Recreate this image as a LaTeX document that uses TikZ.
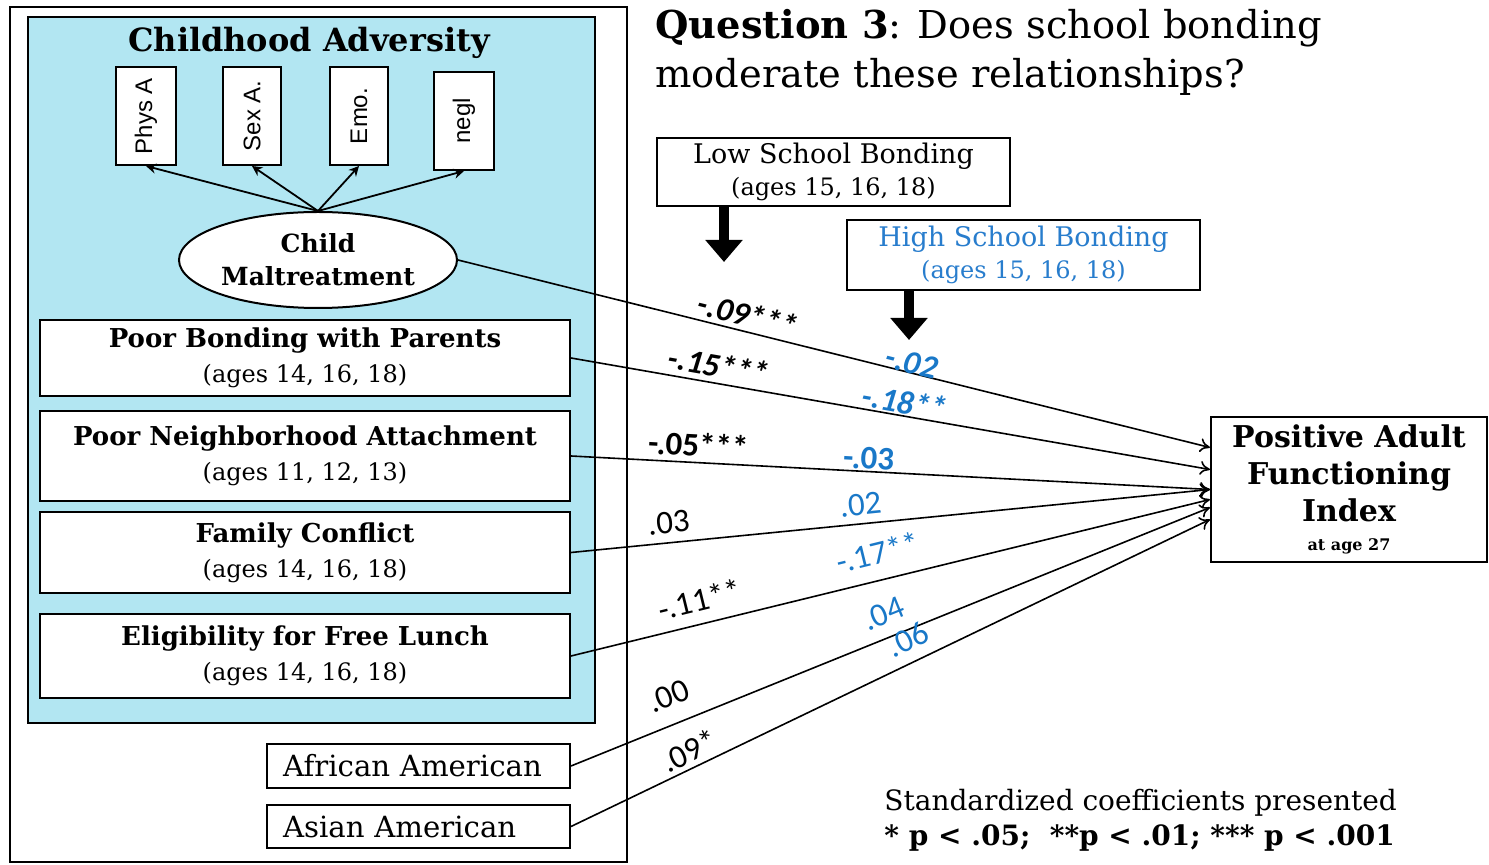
\documentclass[tikz,border=0pt]{standalone}
\usepackage{fontspec}
\usepackage{graphicx}
\setmainfont{DejaVu Serif}
\newfontfamily\labfont{Carlito}
\newfontfamily\smallsans{Liberation Sans}
\usetikzlibrary{arrows.meta,shapes.geometric,calc}
\definecolor{advblue}{RGB}{178,230,242}
\definecolor{hiblue}{RGB}{40,125,205}
\definecolor{coefblue}{RGB}{25,120,200}
\begin{document}
\begin{tikzpicture}[x=0.5pt,y=-0.5pt,
  box/.style={draw,line width=1pt,fill=white,inner sep=0pt,align=center},
  ind/.style={box,font=\smallsans\fontsize{12}{14}\selectfont},
  bigbox/.style={box,minimum width=265pt,font=\fontsize{13}{17.5}\selectfont},
  ethbox/.style={box,minimum width=151.5pt,inner xsep=8pt,text width=135.5pt,align=left,font=\fontsize{14.6}{16}\selectfont},
  path/.style={line width=0.8pt,-{To[length=5pt,width=7pt]}},
  load/.style={line width=0.9pt,-{Stealth[length=5pt,width=5pt]}},
  thick arrow/.style={line width=5pt,-{Triangle[length=11pt,width=18pt]}},
  coef/.style={sloped,inner sep=0pt,font=\labfont\fontsize{16.5}{19}\selectfont},
  lo/.style={coef,text=black},
  hi/.style={coef,text=coefblue},
  bi/.style={font=\labfont\bfseries\itshape\fontsize{16.5}{19}\selectfont},
  bu/.style={font=\labfont\bfseries\fontsize{16.5}{19}\selectfont}]
\useasboundingbox (0,0) rectangle (1489,865);
% frames
\draw[line width=0.9pt] (10,7) rectangle (627,862);
\draw[line width=1pt,fill=advblue] (28,17) rectangle (595,723);
\node[font=\bfseries\fontsize{16}{18}\selectfont] (advt) at (309,43) {Childhood Adversity};
% indicators
\node[ind,minimum width=30pt,minimum height=49pt] (phys) at (146,116) {\rotatebox{90}{Phys A}};
\node[ind,minimum width=29pt,minimum height=49pt] (sexa) at (252,116) {\rotatebox{90}{Sex A.}};
\node[ind,minimum width=29pt,minimum height=49pt] (emo) at (359,116) {\rotatebox{90}{Emo.}};
\node[ind,minimum width=30pt,minimum height=49pt] (negl) at (464,121) {\rotatebox{90}{negl}};
\node[draw,line width=1pt,fill=white,ellipse,minimum width=139pt,minimum height=48pt,inner sep=0pt,align=center,font=\bfseries\fontsize{12.5}{16.5}\selectfont] (cm) at (318,260) {Child\\Maltreatment};
\foreach \t in {phys,sexa,emo,negl} \draw[load] (cm.north) -- (\t.south);
% predictors
\node[bigbox,minimum height=38pt] (pbp) at (305,358) {\textbf{Poor Bonding with Parents}\\{\fontsize{12}{17.5}\selectfont(ages 14, 16, 18)}};
\node[bigbox,minimum height=45pt] (pna) at (305,456) {\textbf{Poor Neighborhood Attachment}\\{\fontsize{12}{17.5}\selectfont(ages 11, 12, 13)}};
\node[bigbox,minimum height=40.5pt] (fc) at (305,552.5) {\textbf{Family Conflict}\\{\fontsize{12}{17.5}\selectfont(ages 14, 16, 18)}};
\node[bigbox,minimum height=42pt] (fl) at (305,656) {\textbf{Eligibility for Free Lunch}\\{\fontsize{12}{17.5}\selectfont(ages 14, 16, 18)}};
\node[ethbox,minimum height=22pt] (aa) at (418.5,766) {African American};
\node[ethbox,minimum height=21.5pt] (asian) at (418.5,826.5) {Asian American};
% outcome
\node[box,minimum width=138pt,minimum height=72.5pt,font=\bfseries\fontsize{15}{18.5}\selectfont] (out) at (1349,489.5) {Positive Adult\\Functioning\\Index\\[-4pt]{\fontsize{8}{9}\selectfont at age 27}};
% moderators
\node[box,minimum width=176.5pt,minimum height=34pt,font=\fontsize{13.5}{16}\selectfont] (low) at (833.5,172) {Low School Bonding\\{\fontsize{12}{16}\selectfont(ages 15, 16, 18)}};
\node[box,minimum width=176.5pt,minimum height=35pt,text=hiblue,font=\fontsize{13.5}{16}\selectfont] (high) at (1023.5,255) {High School Bonding\\{\fontsize{12}{16}\selectfont(ages 15, 16, 18)}};
\coordinate (lowtip) at (724,262);
\coordinate (hightip) at (909,340);
\draw[thick arrow] (low.south -| lowtip) -- (lowtip);
\draw[thick arrow] (high.south -| hightip) -- (hightip);
% title and note
\node[anchor=north west,align=left,inner sep=0pt,font=\fontsize{19.2}{24.5}\selectfont] (title) at (655,9) {\textbf{Question 3}: Does school bonding\\moderate these relationships?};
\node[anchor=north west,align=left,inner sep=0pt,font=\fontsize{14}{17.5}\selectfont] (note) at (884,789) {Standardized coefficients presented\\\textbf{* p < .05;\ \ **p < .01; *** p < .001}};
% paths
\draw[path] (cm.east) -- node[lo,bi,pos=0.38,yshift=8.5pt]{-.09***} node[hi,bi,pos=0.60,yshift=5pt]{-.02} ([yshift=21pt]out.west);
\draw[path] (pbp.east) -- node[lo,bi,pos=0.226,yshift=9pt]{-.15***} node[hi,bi,pos=0.518,yshift=7pt]{-.18**} ([yshift=10pt]out.west);
\draw[path] (pna.east) -- node[lo,bu,pos=0.198,yshift=9pt]{-.05***} node[hi,bu,pos=0.465,yshift=6.5pt]{-.03} (out.west);
\draw[path] (fc.east) -- node[lo,pos=0.156,yshift=10pt]{.03} node[hi,pos=0.456,yshift=9.5pt]{.02} (out.west);
\draw[path] (fl.east) -- node[lo,pos=0.21,yshift=12pt]{-.11**} node[hi,pos=0.49,yshift=14pt]{-.17**} ([yshift=-5pt]out.west);
\draw[path] (aa.east) -- node[lo,pos=0.169,yshift=14pt]{.00} node[hi,pos=0.503,yshift=12pt]{.04} ([yshift=-9pt]out.west);
\draw[path] (asian.east) -- node[lo,pos=0.197,yshift=8.5pt]{.09*} node[hi,pos=0.543,yshift=11.5pt]{.06} ([yshift=-15pt]out.west);
\end{tikzpicture}
\end{document}
